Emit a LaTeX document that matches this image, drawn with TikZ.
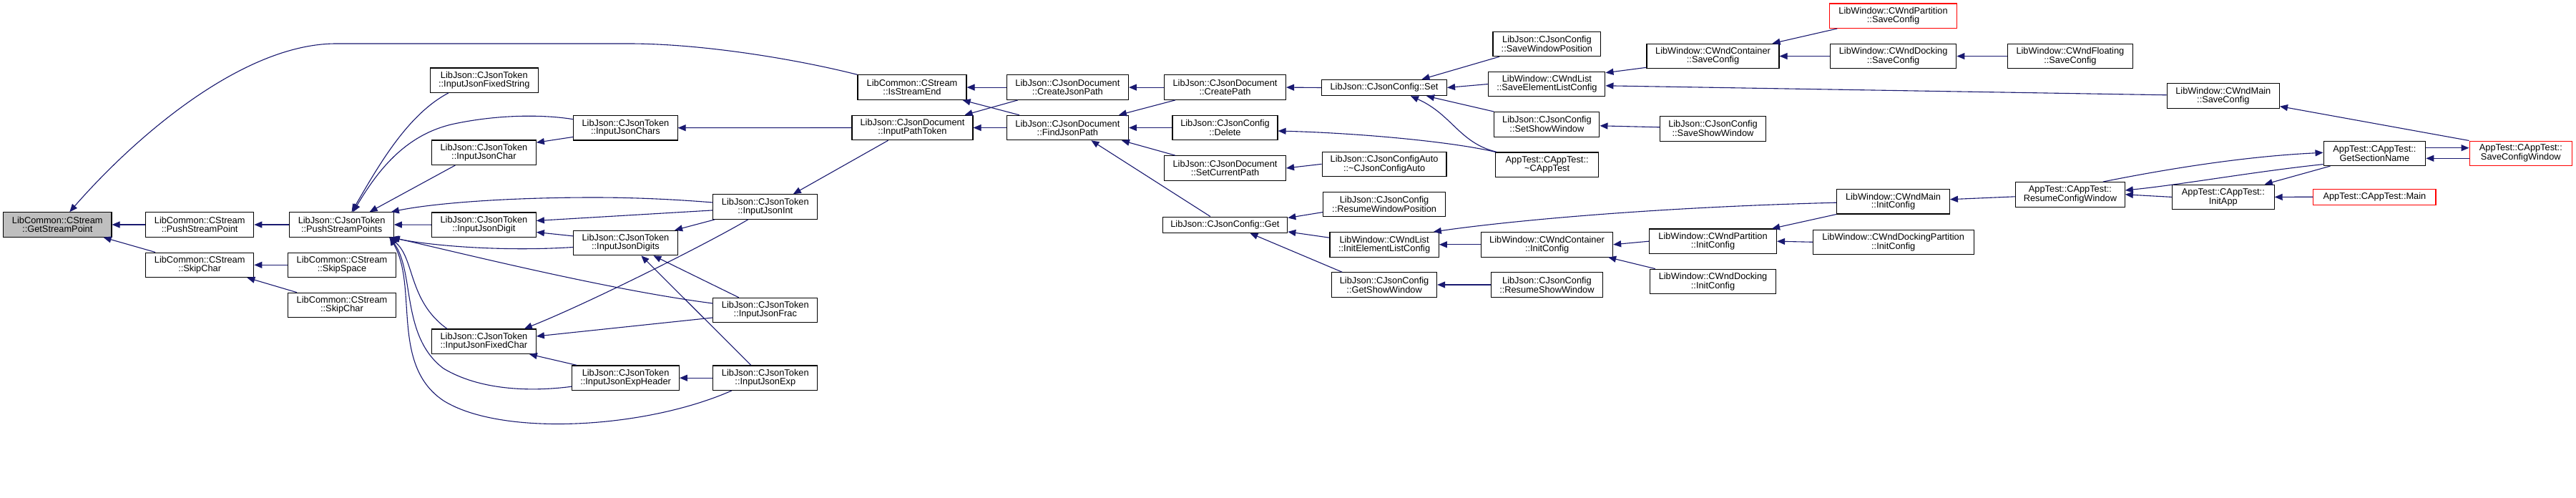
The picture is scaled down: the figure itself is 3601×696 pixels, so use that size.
\documentclass[tikz,border=0pt]{standalone}
\usepackage{fontspec}
\setmainfont{Liberation Sans}
\usetikzlibrary{arrows.meta}
\definecolor{navy}{HTML}{191970}
\definecolor{gspgray}{HTML}{BFBFBF}
\newcommand\nodefont{\fontsize{12.8pt}{11.9pt}\selectfont}
\tikzset{
 box/.style={draw=black, line width=1.1pt, fill=white, inner sep=1pt, align=center, font=\nodefont, minimum height=34.5pt},
 box1/.style={box, minimum height=22.3pt},
 rbox/.style={box, draw=red},
 rbox1/.style={box1, draw=red},
 conn/.style={draw=navy, line width=1.1pt, {Triangle[length=11pt,width=9pt]}-},
}
\begin{document}
\begin{tikzpicture}[x=1pt,y=-1pt]
\fill[white] (0,0) rectangle (3601,696);
\useasboundingbox (0,0) rectangle (3601,696);
% nodes
\node[box, minimum width=151.4pt, fill=gspgray] (gsp) at (80.3,314) {LibCommon::CStream\\::GetStreamPoint};
\node[box, minimum width=151.2pt] (psp) at (279.2,314) {LibCommon::CStream\\::PushStreamPoint};
\node[box, minimum width=151.2pt] (sca) at (279.2,370.3) {LibCommon::CStream\\::SkipChar};
\node[box, minimum width=145.4pt] (psps) at (477.6,314) {LibJson::CJsonToken\\::PushStreamPoints};
\node[box, minimum width=150.8pt] (ssp) at (478,370.3) {LibCommon::CStream\\::SkipSpace};
\node[box, minimum width=150.8pt] (scb) at (478,426.5) {LibCommon::CStream\\::SkipChar};
\node[box, minimum width=150.5pt] (ijfs) at (676.8,112.2) {LibJson::CJsonToken\\::InputJsonFixedString};
\node[box, minimum width=145.3pt] (ijcs) at (874.4,178.7) {LibJson::CJsonToken\\::InputJsonChars};
\node[box, minimum width=145.9pt] (ijc) at (676.4,213.2) {LibJson::CJsonToken\\::InputJsonChar};
\node[box, minimum width=145.8pt] (iji) at (1069.8,289) {LibJson::CJsonToken\\::InputJsonInt};
\node[box, minimum width=145.9pt] (ijd) at (676.4,314.2) {LibJson::CJsonToken\\::InputJsonDigit};
\node[box, minimum width=145.3pt] (ijds) at (874.4,339.5) {LibJson::CJsonToken\\::InputJsonDigits};
\node[box, minimum width=145.8pt] (ijf) at (1069.8,433.6) {LibJson::CJsonToken\\::InputJsonFrac};
\node[box, minimum width=145.9pt] (ijfc) at (676.4,477.2) {LibJson::CJsonToken\\::InputJsonFixedChar};
\node[box, minimum width=149.6pt] (ijeh) at (874.6,528.2) {LibJson::CJsonToken\\::InputJsonExpHeader};
\node[box, minimum width=145.8pt] (ije) at (1069.8,528.2) {LibJson::CJsonToken\\::InputJsonExp};
\node[box, minimum width=152pt] (ise) at (1275,122.1) {LibCommon::CStream\\::IsStreamEnd};
\node[box, minimum width=169pt] (ipt) at (1275.5,178.5) {LibJson::CJsonDocument\\::InputPathToken};
\node[box, minimum width=170pt] (cjp) at (1492.4,122.1) {LibJson::CJsonDocument\\::CreateJsonPath};
\node[box, minimum width=170pt] (fjp) at (1492.4,178.5) {LibJson::CJsonDocument\\::FindJsonPath};
\node[box, minimum width=170pt] (cp) at (1712.5,122.1) {LibJson::CJsonDocument\\::CreatePath};
\node[box, minimum width=147pt] (del) at (1712.5,178.5) {LibJson::CJsonConfig\\::Delete};
\node[box, minimum width=170pt] (scp) at (1712.5,235) {LibJson::CJsonDocument\\::SetCurrentPath};
\node[box1, minimum width=174.7pt] (get) at (1712.4,314.2) {LibJson::CJsonConfig::Get};
\node[box1, minimum width=175pt] (set) at (1935,122.5) {LibJson::CJsonConfig::Set};
\node[box, minimum width=150.8pt] (swp) at (2162.4,61.4) {LibJson::CJsonConfig\\::SaveWindowPosition};
\node[box, minimum width=163pt] (selc) at (2162.4,117.5) {LibWindow::CWndList\\::SaveElementListConfig};
\node[box, minimum width=147pt] (ssw) at (2162.4,173.8) {LibJson::CJsonConfig\\::SetShowWindow};
\node[box, minimum width=143.5pt] (dtor) at (2162.6,230.2) {AppTest::CAppTest::\\\textasciitilde CAppTest};
\node[box, minimum width=173.8pt] (jca) at (1935.1,229.3) {LibJson::CJsonConfigAuto\\::\textasciitilde CJsonConfigAuto};
\node[box, minimum width=171.4pt] (rwp) at (1935.1,285.5) {LibJson::CJsonConfig\\::ResumeWindowPosition};
\node[box, minimum width=152.3pt] (ielc) at (1935.1,341.8) {LibWindow::CWndList\\::InitElementListConfig};
\node[box, minimum width=147pt] (gsw) at (1935.1,398) {LibJson::CJsonConfig\\::GetShowWindow};
\node[box, minimum width=184pt] (wcic) at (2162.6,341.8) {LibWindow::CWndContainer\\::InitConfig};
\node[box, minimum width=156.2pt] (rsw) at (2162.4,398) {LibJson::CJsonConfig\\::ResumeShowWindow};
\node[box, minimum width=185pt] (wcsc) at (2394.5,78.5) {LibWindow::CWndContainer\\::SaveConfig};
\node[box, minimum width=147.3pt] (ssw2) at (2394.5,179.8) {LibJson::CJsonConfig\\::SaveShowWindow};
\node[box, minimum width=178pt] (wpic) at (2394.5,337.2) {LibWindow::CWndPartition\\::InitConfig};
\node[box, minimum width=176.4pt] (wdic) at (2394.5,393.4) {LibWindow::CWndDocking\\::InitConfig};
\node[rbox, minimum width=177.5pt] (wpsc) at (2646.5,22.2) {LibWindow::CWndPartition\\::SaveConfig};
\node[box, minimum width=176.5pt] (wdsc) at (2646.6,78.5) {LibWindow::CWndDocking\\::SaveConfig};
\node[box, minimum width=175pt] (wfsc) at (2893.9,78.5) {LibWindow::CWndFloating\\::SaveConfig};
\node[box, minimum width=157.7pt] (wmic) at (2646.5,281.7) {LibWindow::CWndMain\\::InitConfig};
\node[box, minimum width=152.7pt] (rcw) at (2893.9,271.8) {AppTest::CAppTest::\\ResumeConfigWindow};
\node[box, minimum width=224.7pt] (wdpic) at (2646.7,338.3) {LibWindow::CWndDockingPartition\\::InitConfig};
\node[box, minimum width=157.3pt] (wmsc) at (3107.8,133.8) {LibWindow::CWndMain\\::SaveConfig};
\node[box, minimum width=142.7pt] (gsn) at (3319.4,214.3) {AppTest::CAppTest::\\GetSectionName};
\node[rbox, minimum width=143.5pt] (scw) at (3523.8,214.3) {AppTest::CAppTest::\\SaveConfigWindow};
\node[box, minimum width=142.7pt] (iapp) at (3107.8,275.4) {AppTest::CAppTest::\\InitApp};
\node[rbox1, minimum width=171.1pt] (main) at (3319.4,275.2) {AppTest::CAppTest::Main};
% connectors (arrow tip at the first point)
\draw[conn] (gsp.east) -- (psp.west);
\draw[conn] ([xshift=-12pt]gsp.south east) -- ([xshift=14pt]sca.north west);
\draw[conn] ([xshift=17pt]gsp.north) .. controls (190,190) and (340,61) .. (470,61) -- (879,61) .. controls (980,61) and (1110,82) .. (ise.north west);
\draw[conn] (psp.east) -- (psps.west);
\draw[conn] (sca.east) -- (ssp.west);
\draw[conn] ([xshift=-10pt]sca.south east) -- ([xshift=13pt]scb.north west);
\draw[conn] ([xshift=14pt]psps.north) .. controls (530,230) and (570,160) .. ([xshift=-50pt]ijfs.south);
\draw[conn] ([xshift=16pt]psps.north) .. controls (530,235) and (570,185) .. (640,172) .. controls (700,160) and (760,160) .. ([yshift=12pt]ijcs.west);
\draw[conn] ([xshift=39pt]psps.north) -- ([xshift=-40pt]ijc.south);
\draw[conn] ([xshift=-4pt]psps.north east) .. controls (600,285) and (700,276) .. (830,276) .. controls (900,276) and (960,280) .. ([yshift=6pt]iji.west);
\draw[conn] (psps.east) -- (ijd.west);
\draw[conn] ([xshift=-5pt]psps.south east) .. controls (600,343) and (700,352) .. ([yshift=-6pt]ijds.west);
\draw[conn] ([xshift=-3pt]psps.south east) .. controls (650,355) and (850,405) .. ([yshift=9.6pt]ijf.west);
\draw[conn] ([xshift=-7pt]psps.south east) .. controls (580,360) and (570,420) .. ([xshift=-51.5pt]ijfc.north);
\draw[conn] ([xshift=-6pt]psps.south east) .. controls (580,380) and (560,470) .. (620,515) .. controls (670,545) and (740,548) .. ([yshift=-12pt]ijeh.west);
\draw[conn] ([xshift=-6pt]psps.south east) .. controls (585,400) and (545,510) .. (620,560) .. controls (700,610) and (900,600) .. ([xshift=-47pt]ije.south);
\draw[conn] ([yshift=14pt]ijc.east) -- ([yshift=-12.7pt]ijcs.west);
\draw[conn] (ijcs.east) -- (ipt.west);
\draw[conn] ([xshift=39pt]iji.north) -- ([xshift=-34pt]ipt.south);
\draw[conn] ([yshift=5.7pt]ijd.east) -- ([yshift=-4.9pt]iji.west);
\draw[conn] ([yshift=-10.3pt]ijd.east) -- ([yshift=9.6pt]ijds.west);
\draw[conn] ([xshift=-4.5pt]ijds.north east) -- ([xshift=3pt]iji.south west);
\draw[conn] ([xshift=39pt]ijds.south) -- ([xshift=-37pt]ijf.north);
\draw[conn] ([xshift=22pt]ijds.south) -- ([xshift=-20pt]ije.north);
\draw[conn] ([xshift=-17pt]ijfc.north east) .. controls (820,425) and (990,340) .. ([xshift=-24pt]iji.south);
\draw[conn] ([yshift=7.2pt]ijfc.east) -- ([yshift=-10.4pt]ijf.west);
\draw[conn] ([xshift=-10pt]ijfc.south east) -- ([xshift=7pt]ijeh.north west);
\draw[conn] (ijeh.east) -- (ije.west);
\draw[conn] (ise.east) -- (cjp.west);
\draw[conn] ([xshift=-6pt]ise.south east) -- ([xshift=18pt]fjp.north west);
\draw[conn] ([xshift=-12pt]ipt.north east) -- ([xshift=16pt]cjp.south west);
\draw[conn] (ipt.east) -- (fjp.west);
\draw[conn] (cjp.east) -- (cp.west);
\draw[conn] ([xshift=-14pt]fjp.north east) -- ([xshift=16pt]cp.south west);
\draw[conn] (fjp.east) -- (del.west);
\draw[conn] ([xshift=-10pt]fjp.south east) -- ([xshift=16pt]scp.north west);
\draw[conn] ([xshift=33pt]fjp.south) -- ([xshift=-20.6pt]get.north);
\draw[conn] (cp.east) -- (set.west);
\draw[conn] ([xshift=52.5pt]set.north) -- ([xshift=9.6pt]swp.south west);
\draw[conn] (set.east) -- (selc.west);
\draw[conn] ([xshift=-29pt]set.south east) -- (ssw.north west);
\draw[conn] ([xshift=37pt]set.south) .. controls (2030,160) and (2040,200) .. ([xshift=2pt]dtor.north west);
\draw[conn] ([yshift=-4.5pt]del.east) .. controls (1900,186) and (2030,198) .. (dtor.north west);
\draw[conn] (scp.east) -- (jca.west);
\draw[conn] ([yshift=-2pt]get.north east) -- ([yshift=-11.1pt]rwp.west);
\draw[conn] ([yshift=2pt]get.south east) -- ([yshift=9.6pt]ielc.west);
\draw[conn] ([xshift=35pt]get.south) -- ([xshift=15pt]gsw.north west);
\draw[conn] ([yshift=-2pt]selc.north east) -- ([yshift=2pt]wcsc.south west);
\draw[conn] ([yshift=-2.3pt]selc.east) -- ([yshift=1pt]wmsc.west);
\draw[conn] ([yshift=-2pt]ssw.east) -- ([yshift=2pt]ssw2.west);
\draw[conn] ([xshift=-8pt]ielc.north east) .. controls (2100,310) and (2300,290) .. ([yshift=-1.5pt]wmic.west);
\draw[conn] (ielc.east) -- (wcic.west);
\draw[conn] (wcic.east) -- (wpic.west);
\draw[conn] ([xshift=-7pt]wcic.south east) -- ([xshift=8pt]wdic.north west);
\draw[conn] (gsw.east) -- (rsw.west);
\draw[conn] ([xshift=-10pt]wcsc.north east) -- ([xshift=11pt]wpsc.south west);
\draw[conn] (wcsc.east) -- (wdsc.west);
\draw[conn] (wdsc.east) -- (wfsc.west);
\draw[conn] ([xshift=-7pt]wpic.north east) -- (wmic.south west);
\draw[conn] (wpic.east) -- (wdpic.west);
\draw[conn] ([yshift=3pt]wmic.east) -- ([yshift=-3pt]rcw.west);
\draw[conn] ([yshift=1pt]gsn.west) .. controls (3150,218) and (3050,232) .. ([xshift=46pt]rcw.north);
\draw[conn] ([yshift=5.8pt]rcw.east) .. controls (3050,258) and (3150,240) .. ([yshift=-15.3pt]gsn.west);
\draw[conn] (rcw.east) -- (iapp.west);
\draw[conn] ([xshift=-14pt]iapp.north east) -- ([xshift=10pt]gsn.south west);
\draw[conn] (iapp.east) -- (main.west);
\draw[conn] ([yshift=7.6pt]scw.west) -- ([yshift=7.6pt]gsn.east);
\draw[conn] ([yshift=-7pt]gsn.east) -- ([yshift=-7pt]scw.west);
\draw[conn] ([yshift=3pt]wmsc.south east) -- (scw.north west);
\end{tikzpicture}
\end{document}
